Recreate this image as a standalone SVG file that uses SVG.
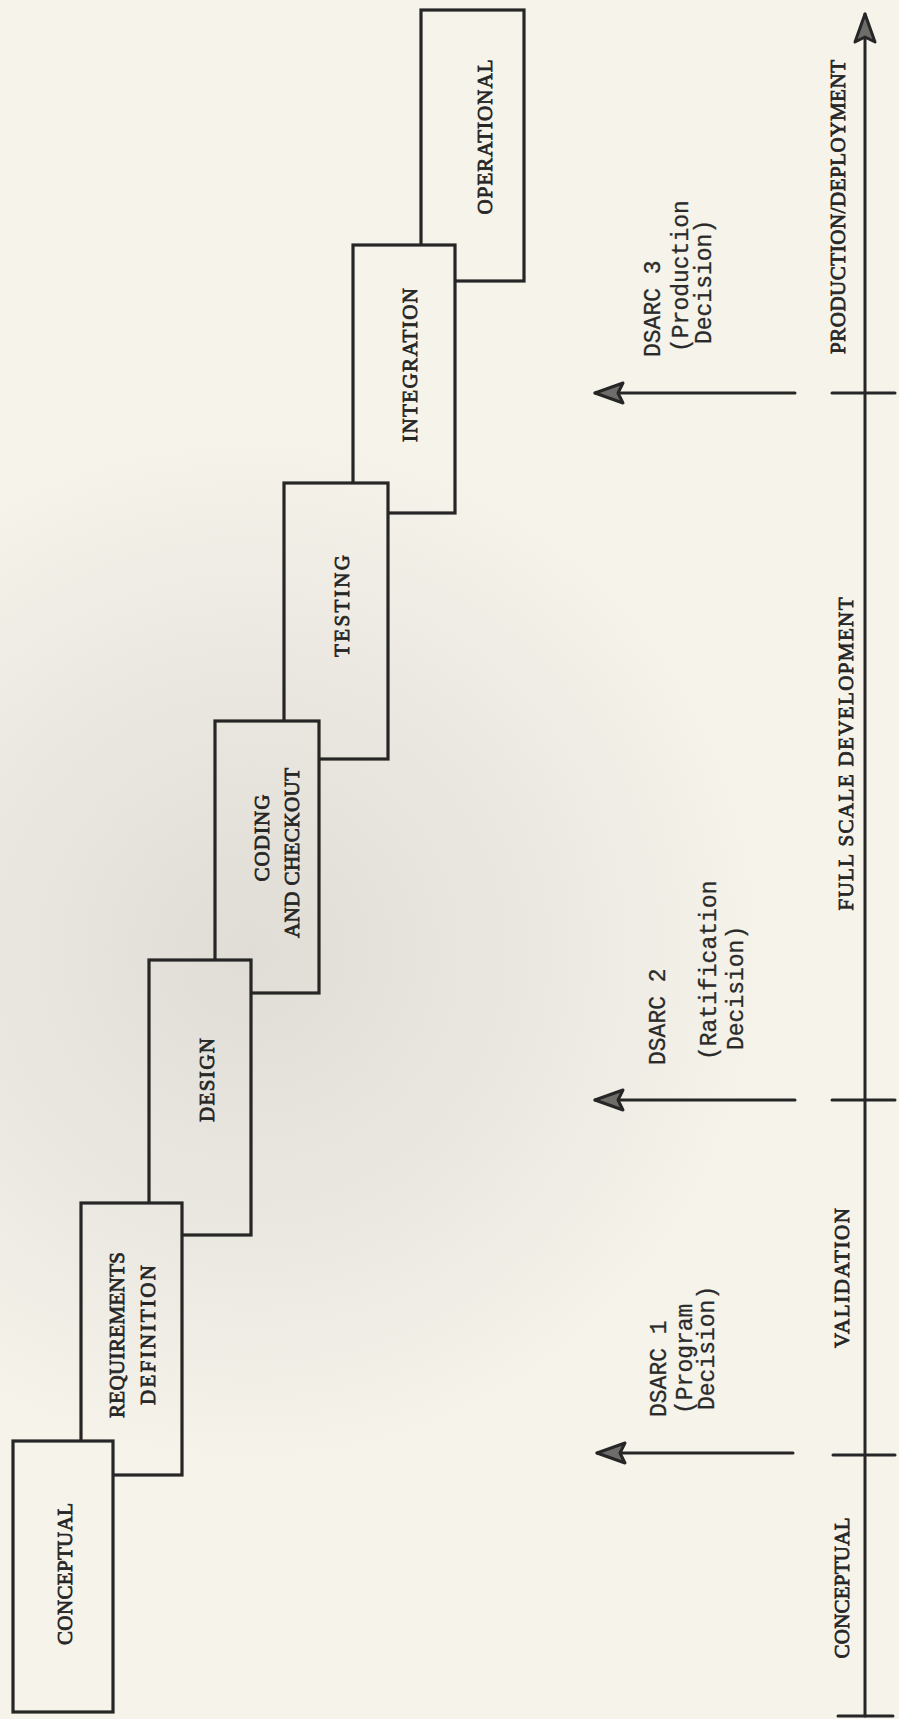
<svg xmlns="http://www.w3.org/2000/svg" width="899" height="1719" viewBox="0 0 899 1719">
<style>
.box{stroke:#262626;stroke-width:3.2;stroke-linejoin:miter}
.lbl{font-family:"Liberation Serif","DejaVu Serif",serif;font-size:21px;fill:#262626;stroke:#262626;stroke-width:0.8;text-anchor:middle;dominant-baseline:central}
.dl{font-family:"Liberation Mono","DejaVu Sans Mono",monospace;font-size:23px;fill:#2a2a2a;stroke:#2a2a2a;stroke-width:0.3;text-anchor:start;dominant-baseline:central}
.ln{stroke:#262626;stroke-width:3;fill:none;stroke-linecap:round}
</style>
<defs>
<radialGradient id="paper" gradientUnits="userSpaceOnUse" cx="250" cy="950" r="520">
<stop offset="0" stop-color="#dfddd5"/>
<stop offset="0.6" stop-color="#ebe9e1"/>
<stop offset="1" stop-color="#f5f3ea"/>
</radialGradient>
<marker id="ah" markerUnits="userSpaceOnUse" markerWidth="34" markerHeight="28" viewBox="0 0 34 28" refX="31" refY="14" orient="auto">
<path d="M3,4 L31,14 L3,24 L8,14 Z" fill="#6e6d69" stroke="#262626" stroke-width="3" stroke-linejoin="round"/>
</marker>
</defs>
<rect x="0" y="0" width="899" height="1719" fill="url(#paper)"/>

<g id="operational"><rect class="box" x="421" y="10" width="103" height="271" fill="url(#paper)"/><text class="lbl" textLength="155" lengthAdjust="spacing" transform="translate(485,137) rotate(-90)">OPERATIONAL</text></g>
<g id="integration"><rect class="box" x="353" y="245" width="102" height="268" fill="url(#paper)"/><text class="lbl" textLength="154" lengthAdjust="spacing" transform="translate(410,365) rotate(-90)">INTEGRATION</text></g>
<g id="testing"><rect class="box" x="284" y="483" width="104" height="276" fill="url(#paper)"/><text class="lbl" textLength="102" lengthAdjust="spacing" transform="translate(342,606) rotate(-90)">TESTING</text></g>
<g id="coding"><rect class="box" x="215" y="721" width="104" height="272" fill="url(#paper)"/><text class="lbl" textLength="87" lengthAdjust="spacing" transform="translate(262,838) rotate(-90)">CODING</text><text class="lbl" textLength="170" lengthAdjust="spacing" transform="translate(292,853) rotate(-90)">AND CHECKOUT</text></g>
<g id="design"><rect class="box" x="149" y="960" width="102" height="275" fill="url(#paper)"/><text class="lbl" textLength="84" lengthAdjust="spacing" transform="translate(207,1080) rotate(-90)">DESIGN</text></g>
<g id="requirements"><rect class="box" x="81" y="1203" width="101" height="272" fill="url(#paper)"/><text class="lbl" textLength="166" lengthAdjust="spacing" transform="translate(117,1335) rotate(-90)">REQUIREMENTS</text><text class="lbl" textLength="140" lengthAdjust="spacing" transform="translate(148,1335) rotate(-90)">DEFINITION</text></g>
<g id="conceptual"><rect class="box" x="13" y="1441" width="100" height="271" fill="url(#paper)"/><text class="lbl" textLength="142" lengthAdjust="spacing" transform="translate(65,1574) rotate(-90)">CONCEPTUAL</text></g>

<g id="timeline">
<line class="ln" x1="865" y1="1716" x2="865" y2="14" stroke-width="3.5" marker-end="url(#ah)"/>
<line class="ln" x1="838" y1="1716" x2="893" y2="1716"/>
<line class="ln" x1="833" y1="1455" x2="895" y2="1455"/>
<line class="ln" x1="832" y1="1100" x2="895" y2="1100"/>
<line class="ln" x1="832" y1="393" x2="895" y2="393"/>
<text class="lbl" textLength="141" lengthAdjust="spacing" transform="translate(842,1588) rotate(-90)">CONCEPTUAL</text>
<text class="lbl" textLength="140" lengthAdjust="spacing" transform="translate(842,1278) rotate(-90)">VALIDATION</text>
<text class="lbl" textLength="313" lengthAdjust="spacing" transform="translate(846,754) rotate(-90)">FULL SCALE DEVELOPMENT</text>
<text class="lbl" textLength="294" lengthAdjust="spacing" transform="translate(838,207) rotate(-90)">PRODUCTION/DEPLOYMENT</text>
</g>

<g id="connectors">
<line class="ln" x1="793" y1="1453" x2="597" y2="1453" marker-end="url(#ah)"/>
<line class="ln" x1="795" y1="1100" x2="595" y2="1100" marker-end="url(#ah)"/>
<line class="ln" x1="795" y1="393" x2="595" y2="393" marker-end="url(#ah)"/>
</g>

<g id="dsarc1">
<text class="dl" transform="translate(660,1417) rotate(-90)">DSARC 1</text>
<text class="dl" transform="translate(686,1414) rotate(-90)">(Program</text>
<text class="dl" transform="translate(708,1410) rotate(-90)">Decision)</text>
</g>
<g id="dsarc2">
<text class="dl" transform="translate(659,1065) rotate(-90)">DSARC 2</text>
<text class="dl" transform="translate(710,1060) rotate(-90)">(Ratification</text>
<text class="dl" transform="translate(737,1050) rotate(-90)">Decision)</text>
</g>
<g id="dsarc3">
<text class="dl" transform="translate(654,357) rotate(-90)">DSARC 3</text>
<text class="dl" transform="translate(682,352) rotate(-90)">(Production</text>
<text class="dl" transform="translate(705,344) rotate(-90)">Decision)</text>
</g>
</svg>
